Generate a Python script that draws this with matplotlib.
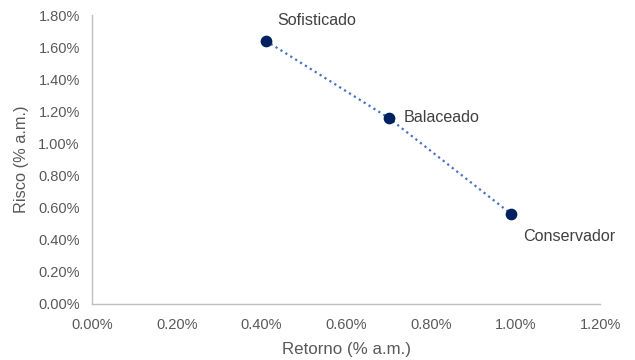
import matplotlib
matplotlib.use("Agg")
import matplotlib.pyplot as plt
from matplotlib.ticker import FuncFormatter

# Portfolio profiles: monthly return vs. monthly risk (in %)
profiles = ["Sofisticado", "Balaceado", "Conservador"]
retorno = [0.41, 0.70, 0.99]
risco = [1.64, 1.16, 0.56]

# label offsets in pixels (dx, dy) relative to each point
label_offsets = [(11, 20), (15, 0), (12, -22)]

x_ticks = [0.0, 0.2, 0.4, 0.6, 0.8, 1.0, 1.2]
y_ticks = [0.0, 0.2, 0.4, 0.6, 0.8, 1.0, 1.2, 1.4, 1.6, 1.8]

text_color = "#595959"
axis_color = "#BFBFBF"

plt.rcParams["font.family"] = ["Liberation Sans", "DejaVu Sans"]

fig = plt.figure(figsize=(6.35, 3.6), dpi=100)
ax = fig.add_axes([0.1454, 0.156, 0.945 - 0.1454, 0.958 - 0.156])

ax.plot(retorno, risco, linestyle=(0, (1, 1.6)), color="#4472C4", linewidth=1.6, zorder=2)
ax.scatter(retorno, risco, s=55, color="#002060", zorder=3)

for name, x, y, (dx, dy) in zip(profiles, retorno, risco, label_offsets):
    ax.annotate(name, (x, y), xytext=(dx, dy), textcoords="offset pixels",
                ha="left", va="center", fontsize=11.6, color="#404040")

ax.set_xlim(0, 1.2)
ax.set_ylim(0, 1.8)
ax.set_xticks(x_ticks)
ax.set_yticks(y_ticks)
pct = FuncFormatter(lambda v, _: f"{v:.2f}%")
ax.xaxis.set_major_formatter(pct)
ax.yaxis.set_major_formatter(pct)
ax.tick_params(axis="both", length=0, labelsize=10.5, labelcolor=text_color)
ax.tick_params(axis="x", pad=10)
ax.tick_params(axis="y", pad=9)

for side in ["top", "right"]:
    ax.spines[side].set_visible(False)
for side in ["left", "bottom"]:
    ax.spines[side].set_color(axis_color)
    ax.spines[side].set_linewidth(1.0)

ax.set_xlabel("Retorno (% a.m.)", fontsize=12.2, color=text_color)
ax.set_ylabel("Risco (% a.m.)", fontsize=11.8, color=text_color)
ax.xaxis.label.set_va("center")
ax.yaxis.label.set_va("center")
ax.xaxis.set_label_coords(0.5, -0.159)
ax.yaxis.set_label_coords(-0.139, 0.5)

fig.savefig("out.png", dpi=100, facecolor="white")
